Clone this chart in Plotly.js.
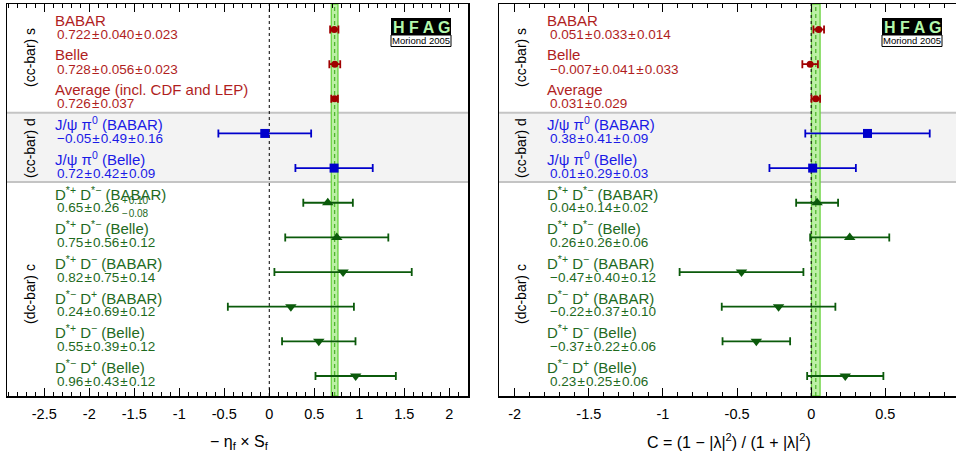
<!DOCTYPE html>
<html><head><meta charset="utf-8">
<script src="https://cdn.plot.ly/plotly-3.0.1.min.js"></script>
<style>html,body{margin:0;padding:0;background:#fff;}</style>
</head><body>
<div id="chart" style="width:956px;height:459px;"></div>
<script>
// ---- data ----
const groups = ['s','s','s','d','d','c','c','c','c','c','c'];
const symbols = ['circle','circle','circle','square','square','triangle-up','triangle-up','triangle-down','triangle-down','triangle-down','triangle-down'];
const namesS = ['BABAR','Belle','Average (incl. CDF and LEP)','J/ψ π<sup>0</sup> (BABAR)','J/ψ π<sup>0</sup> (Belle)',
  'D<sup>*+</sup> D<sup>*−</sup> (BABAR)','D<sup>*+</sup> D<sup>*−</sup> (Belle)','D<sup>*+</sup> D<sup>−</sup> (BABAR)',
  'D<sup>*−</sup> D<sup>+</sup> (BABAR)','D<sup>*+</sup> D<sup>−</sup> (Belle)','D<sup>*−</sup> D<sup>+</sup> (Belle)'];
const namesC = ['BABAR','Belle','Average','J/ψ π<sup>0</sup> (BABAR)','J/ψ π<sup>0</sup> (Belle)',
  'D<sup>*+</sup> D<sup>*−</sup> (BABAR)','D<sup>*+</sup> D<sup>*−</sup> (Belle)','D<sup>*+</sup> D<sup>−</sup> (BABAR)',
  'D<sup>*−</sup> D<sup>+</sup> (BABAR)','D<sup>*+</sup> D<sup>−</sup> (Belle)','D<sup>*−</sup> D<sup>+</sup> (Belle)'];
const decimals = [3,3,3,2,2,2,2,2,2,2,2];

const sVal    = [0.722, 0.728, 0.726, -0.05, 0.72, 0.65, 0.75, 0.82, 0.24, 0.55, 0.96];
const sStat   = [0.040, 0.056, 0.037,  0.49, 0.42, 0.26, 0.56, 0.75, 0.69, 0.39, 0.43];
const sSystUp = [0.023, 0.023, 0,      0.16, 0.09, 0.10, 0.12, 0.14, 0.12, 0.12, 0.12];
const sSystDn = [0.023, 0.023, 0,      0.16, 0.09, 0.08, 0.12, 0.14, 0.12, 0.12, 0.12];

const cVal    = [0.051, -0.007, 0.031, 0.38, 0.01, 0.04, 0.26, -0.47, -0.22, -0.37, 0.23];
const cStat   = [0.033,  0.041, 0.029, 0.41, 0.29, 0.14, 0.26,  0.40,  0.37,  0.22, 0.25];
const cSystUp = [0.014,  0.033, 0,     0.09, 0.03, 0.02, 0.06,  0.12,  0.10,  0.06, 0.06];
const cSystDn = [0.014,  0.033, 0,     0.09, 0.03, 0.02, 0.06,  0.12,  0.10,  0.06, 0.06];
const averageIndex = 2;

const ticksS = [-2.5,-2,-1.5,-1,-0.5,0,0.5,1,1.5,2];
const tickTextS = ['-2.5','-2','-1.5','-1','-0.5','0','0.5','1','1.5','2'];
const ticksC = [-2,-1.5,-1,-0.5,0,0.5];
const tickTextC = ['-2','-1.5','-1','-0.5','0','0.5'];

// ---- style ----
const W = 956, H = 459;
const px = x => x / W, py = y => 1 - y / H;
const textCol = {s:'#b01e1e', d:'#1a1ae6', c:'#1e6a1e'};
const markCol = {s:'#a00000', d:'#0000cc', c:'#0b5a0b'};
const markSize = {s:7, d:9, c:10};
const FONT = 'Liberation Sans, Arial, Helvetica, sans-serif';

const fmt = (v, d) => v.toFixed(d).replace('-', '−');
const PM = '\u200a±\u200a';

const traces = [], shapes = [], annotations = [];

function panel(xa, ya, vals, stat, sUp, sDn, names, nameX, valX, grpX, logoX) {
  const xdom = xa + ' domain', ydom = ya + ' domain';
  shapes.push({type:'rect', xref:xdom, yref:ya, x0:0, x1:1, y0:2.4, y1:4.4, fillcolor:'#f3f3f3', line:{width:0}, layer:'below'});
  shapes.push({type:'line', xref:xdom, yref:ya, x0:0, x1:1, y0:2.4, y1:2.4, line:{color:'#c4c4c4', width:2}, layer:'below'});
  shapes.push({type:'line', xref:xdom, yref:ya, x0:0, x1:1, y0:4.4, y1:4.4, line:{color:'#c4c4c4', width:2}, layer:'below'});
  const av = vals[averageIndex], ae = stat[averageIndex];
  shapes.push({type:'rect', xref:xa, yref:ydom, x0:av-ae, x1:av+ae, y0:0, y1:1, fillcolor:'#bdf0a6', line:{color:'#6ad33f', width:1.3}, layer:'below'});
  shapes.push({type:'line', xref:xa, yref:ydom, x0:av, x1:av, y0:0, y1:1, line:{color:'#4fb52f', width:1.3, dash:'4px,3px'}, layer:'below'});
  shapes.push({type:'line', xref:xa, yref:ydom, x0:0, x1:0, y0:0, y1:1, line:{color:'black', width:1, dash:'3px,3px'}, layer:'below'});

  ['s','d','c'].forEach(g => {
    const idx = groups.map((gg,i)=>gg===g?i:-1).filter(i=>i>=0);
    traces.push({
      type:'scatter', mode:'markers', xaxis:xa, yaxis:ya,
      x: idx.map(i=>vals[i]), y: idx,
      marker:{symbol: idx.map(i=>symbols[i]), size: markSize[g], color: markCol[g]},
      error_x:{type:'data', symmetric:false,
        array: idx.map(i=>Math.sqrt(stat[i]**2 + sUp[i]**2)),
        arrayminus: idx.map(i=>Math.sqrt(stat[i]**2 + sDn[i]**2)),
        color: markCol[g], thickness:1.8, width:4},
      hoverinfo:'x'
    });
  });

  const yr = ya;
  names.forEach((n, i) => {
    const g = groups[i];
    annotations.push({xref:'paper', yref:yr, x:px(nameX), y:i-0.274, xanchor:'left', yanchor:'middle',
      text:n, showarrow:false, font:{family:FONT, size:15, color:textCol[g]}});
    let t = fmt(vals[i], decimals[i]) + PM + fmt(stat[i], decimals[i]);
    const asym = sUp[i] !== sDn[i];
    if (sUp[i] > 0 && !asym) t += PM + fmt(sUp[i], decimals[i]);
    annotations.push({xref:'paper', yref:yr, x:px(valX), y:i+0.144, xanchor:'left', yanchor:'middle',
      text:t, showarrow:false, font:{family:FONT, size:13.5, color:textCol[g]}});
    if (asym) {
      annotations.push({xref:'paper', yref:yr, x:px(valX+65), y:i-0.06, xanchor:'left', yanchor:'middle',
        text:'+\u200a' + fmt(sUp[i], decimals[i]), showarrow:false, font:{family:FONT, size:10, color:textCol[g]}});
      annotations.push({xref:'paper', yref:yr, x:px(valX+65), y:i+0.31, xanchor:'left', yanchor:'middle',
        text:'−\u200a' + fmt(sDn[i], decimals[i]), showarrow:false, font:{family:FONT, size:10, color:textCol[g]}});
    }
  });
  [['(cc-bar) s', 58], ['(cc-bar) d', 148], ['(dc-bar) c', 294]].forEach(([t, yy]) => {
    annotations.push({xref:'paper', yref:'paper', x:px(grpX), y:py(yy), xanchor:'center', yanchor:'middle',
      textangle:-90, text:t, showarrow:false, font:{family:FONT, size:14, color:'black'}});
  });
  shapes.push({type:'rect', xref:'paper', yref:'paper', x0:px(logoX), x1:px(logoX+60), y0:py(35), y1:py(18), fillcolor:'black', line:{width:0}});
  shapes.push({type:'rect', xref:'paper', yref:'paper', x0:px(logoX), x1:px(logoX+60), y0:py(46.5), y1:py(35), fillcolor:'white', line:{color:'black', width:1}});
  annotations.push({xref:'paper', yref:'paper', x:px(logoX+30), y:py(27), xanchor:'center', yanchor:'middle',
    text:'<b>H F A G</b>', showarrow:false, font:{family:FONT, size:16, color:'#b4f8ac'}});
  annotations.push({xref:'paper', yref:'paper', x:px(logoX+30), y:py(41), xanchor:'center', yanchor:'middle',
    text:'Moriond 2005', showarrow:false, font:{family:FONT, size:9.5, color:'black'}});
}

panel('x', 'y', sVal, sStat, sSystUp, sSystDn, namesS, 53, 55, 30, 391);
panel('x2', 'y2', cVal, cStat, cSystUp, cSystDn, namesC, 545, 548, 521, 882);

annotations.push({xref:'paper', yref:'paper', x:px(239), y:py(442), xanchor:'center', yanchor:'middle',
  text:'− η<sub>f</sub> × S<sub>f</sub>', showarrow:false, font:{family:FONT, size:16, color:'black'}});
annotations.push({xref:'paper', yref:'paper', x:px(729), y:py(441), xanchor:'center', yanchor:'middle',
  text:'C = (1 − |λ|<sup>2</sup>) / (1 + |λ|<sup>2</sup>)', showarrow:false, font:{family:FONT, size:16, color:'black'}});

function xAxis(dom, range, tv, tt, anchor) {
  return {domain:dom, range:range, anchor:anchor, tickmode:'array', tickvals:tv, ticktext:tt,
    ticks:'inside', ticklen:8, tickwidth:1, tickcolor:'black',
    minor:{tickmode:'linear', tick0:0, dtick:0.1, ticks:'inside', ticklen:4, tickwidth:1, tickcolor:'black'},
    showline:true, linecolor:'black', linewidth:1.5, mirror:'ticks', showgrid:false, zeroline:false,
    tickfont:{family:FONT, size:14.5, color:'black'}, ticklabelstandoff:4, fixedrange:true};
}
function yAxis(anchor, mirror) {
  return {domain:[(H-396)/H, (H-4)/H], range:[10.577, -0.736], anchor:anchor,
    showline:true, linecolor:'black', linewidth:1.5, mirror:mirror, ticks:'', showticklabels:false,
    showgrid:false, zeroline:false, fixedrange:true};
}

const layout = {
  width:W, height:H, margin:{l:0, r:0, t:0, b:0},
  paper_bgcolor:'white', plot_bgcolor:'white', showlegend:false,
  font:{family:FONT},
  xaxis: xAxis([px(7), px(468)], [-2.914, 2.208], ticksS, tickTextS, 'y'),
  xaxis2: xAxis([px(499), 1], [-2.106, 0.977], ticksC, tickTextC, 'y2'),
  yaxis: yAxis('x', true),
  yaxis2: yAxis('x2', false),
  shapes: shapes, annotations: annotations
};

Plotly.newPlot('chart', traces, layout, {staticPlot:true, displayModeBar:false});
</script>
</body></html>
